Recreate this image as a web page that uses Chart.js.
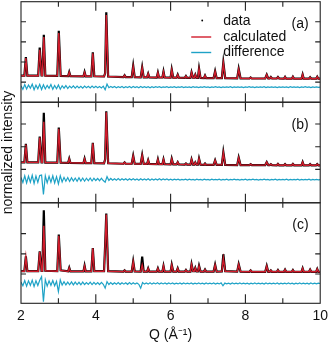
<!DOCTYPE html>
<html><head><meta charset="utf-8">
<script src="https://cdn.jsdelivr.net/npm/chart.js@4.4.1/dist/chart.umd.min.js"></script>
<style>html,body{margin:0;padding:0;background:#fff;}#wrap{width:332px;height:346px;}</style>
</head><body><div id="wrap"><canvas id="c" width="332" height="346"></canvas></div>
<script>
// ---- data ----
const seriesNames = ['data', 'calculated', 'difference'];
const panelLabels = ['(a)', '(b)', '(c)'];
const xTicks = [2, 4, 6, 8, 10];

// Q positions of the profile samples (feet and tops of the Bragg peaks)
const qCalc = [2.00,
 2.09,2.13,2.17, 2.46,2.50,2.55, 2.57,2.61,2.65, 2.97,3.01,3.06, 3.26,3.29,3.32,
 3.67,3.70,3.73, 3.88,3.92,3.96, 4.22,4.25,4.28,4.33, 4.74,4.77,4.80, 4.96,5.00,5.04,
 5.20,5.24,5.28, 5.37,5.40,5.43, 5.63,5.66,5.69, 5.78,5.81,5.84, 6.00,6.03,6.07,
 6.16,6.19,6.22, 6.38,6.41,6.44, 6.53,6.56,6.60, 6.63,6.66,6.69, 6.73,6.76,6.80,
 6.89,6.92,6.95, 7.15,7.19,7.23, 7.37,7.41,7.46, 7.78,7.82,7.87, 8.11,8.14,8.17,
 8.53,8.57,8.61, 8.65,8.68,8.71, 8.84,8.87,8.90, 9.03,9.06,9.09, 9.24,9.27,9.30,
 9.50,9.53,9.56, 9.70,9.73,9.76, 9.89,9.92,9.95, 10.00];

const calcA = [1.32,
 1.32,2.20,1.32, 1.32,2.61,1.33, 1.33,3.24,1.32, 1.31,3.44,1.31, 1.30,1.49,1.30,
 1.29,1.49,1.29, 1.29,2.44,1.29, 1.28,1.45,4.34,1.28, 1.25,1.34,1.25, 1.25,1.78,1.25,
 1.24,1.72,1.24, 1.24,1.42,1.24, 1.23,1.47,1.23, 1.23,1.52,1.23, 1.22,1.62,1.22,
 1.22,1.37,1.22, 1.21,1.30,1.21, 1.21,1.49,1.22, 1.22,1.37,1.21, 1.21,1.67,1.21,
 1.20,1.33,1.20, 1.20,1.53,1.20, 1.20,1.95,1.20, 1.19,1.65,1.19, 1.18,1.23,1.18,
 1.18,1.37,1.18, 1.18,1.25,1.18, 1.18,1.25,1.18, 1.17,1.26,1.17, 1.17,1.27,1.17,
 1.17,1.38,1.17, 1.17,1.24,1.17, 1.17,1.27,1.17, 1.17];
const obsA = [1.32,
 1.32,2.24,1.32, 1.32,2.72,1.33, 1.33,3.36,1.32, 1.31,3.55,1.31, 1.30,1.50,1.30,
 1.29,1.50,1.29, 1.29,2.48,1.29, 1.28,1.45,4.47,1.28, 1.25,1.34,1.25, 1.25,1.82,1.25,
 1.24,1.74,1.24, 1.24,1.42,1.24, 1.23,1.47,1.23, 1.23,1.53,1.23, 1.22,1.63,1.22,
 1.22,1.37,1.22, 1.21,1.30,1.21, 1.21,1.49,1.22, 1.22,1.37,1.21, 1.21,1.68,1.21,
 1.20,1.33,1.20, 1.20,1.54,1.20, 1.20,1.98,1.20, 1.19,1.66,1.19, 1.18,1.23,1.18,
 1.18,1.37,1.18, 1.18,1.25,1.18, 1.18,1.25,1.18, 1.17,1.26,1.17, 1.17,1.27,1.17,
 1.17,1.38,1.17, 1.17,1.24,1.17, 1.17,1.27,1.17, 1.17];

const calcB = [1.31,
 1.31,2.10,1.31, 1.31,2.40,1.31, 1.31,3.10,1.30, 1.30,2.79,1.30, 1.29,1.47,1.29,
 1.28,1.47,1.28, 1.28,2.15,1.28, 1.27,1.45,3.52,1.27, 1.25,1.31,1.25, 1.25,1.59,1.25,
 1.24,1.62,1.24, 1.24,1.41,1.24, 1.23,1.44,1.23, 1.23,1.44,1.23, 1.22,1.47,1.22,
 1.22,1.32,1.22, 1.21,1.26,1.21, 1.21,1.44,1.21, 1.21,1.31,1.21, 1.21,1.48,1.21,
 1.20,1.26,1.20, 1.20,1.40,1.20, 1.20,1.74,1.20, 1.19,1.52,1.19, 1.19,1.23,1.19,
 1.19,1.32,1.19, 1.19,1.23,1.19, 1.18,1.24,1.18, 1.18,1.23,1.18, 1.18,1.24,1.18,
 1.18,1.32,1.18, 1.18,1.23,1.18, 1.18,1.23,1.18, 1.18];
const obsB = [1.31,
 1.31,2.13,1.31, 1.31,2.45,1.31, 1.31,3.50,1.30, 1.30,2.84,1.30, 1.29,1.47,1.29,
 1.28,1.47,1.28, 1.28,2.17,1.28, 1.27,1.45,3.56,1.27, 1.25,1.31,1.25, 1.25,1.60,1.25,
 1.24,1.63,1.24, 1.24,1.41,1.24, 1.23,1.44,1.23, 1.23,1.44,1.23, 1.22,1.47,1.22,
 1.22,1.32,1.22, 1.21,1.26,1.21, 1.21,1.44,1.21, 1.21,1.31,1.21, 1.21,1.48,1.21,
 1.20,1.26,1.20, 1.20,1.40,1.20, 1.20,1.76,1.20, 1.19,1.52,1.19, 1.19,1.23,1.19,
 1.19,1.32,1.19, 1.19,1.23,1.19, 1.18,1.24,1.18, 1.18,1.23,1.18, 1.18,1.24,1.18,
 1.18,1.32,1.18, 1.18,1.23,1.18, 1.18,1.23,1.18, 1.18];

const calcC = [1.14,
 1.14,1.86,1.14, 1.14,2.10,1.15, 1.15,3.39,1.16, 1.14,2.89,1.18, 1.13,1.31,1.13,
 1.13,1.40,1.13, 1.13,2.27,1.14, 1.14,2.43,3.95,1.14, 1.12,1.18,1.12, 1.12,1.61,1.13,
 1.12,1.45,1.12, 1.12,1.28,1.12, 1.12,1.28,1.12, 1.12,1.40,1.12, 1.12,1.45,1.12,
 1.12,1.28,1.12, 1.12,1.20,1.12, 1.12,1.48,1.14, 1.14,1.30,1.13, 1.13,1.40,1.12,
 1.12,1.22,1.12, 1.12,1.45,1.12, 1.13,1.78,1.14, 1.12,1.48,1.12, 1.11,1.18,1.11,
 1.11,1.40,1.11, 1.11,1.18,1.11, 1.11,1.20,1.11, 1.11,1.22,1.11, 1.11,1.20,1.11,
 1.11,1.28,1.11, 1.11,1.22,1.11, 1.11,1.25,1.11, 1.11];
const obsC = [1.14,
 1.14,1.88,1.14, 1.14,2.12,1.15, 1.15,4.16,1.16, 1.14,2.95,1.18, 1.13,1.31,1.13,
 1.13,1.41,1.13, 1.13,2.29,1.14, 1.14,2.43,4.00,1.14, 1.12,1.18,1.12, 1.12,1.63,1.13,
 1.12,1.86,1.12, 1.12,1.28,1.12, 1.12,1.28,1.12, 1.12,1.40,1.12, 1.12,1.46,1.12,
 1.12,1.28,1.12, 1.12,1.20,1.12, 1.12,1.49,1.14, 1.14,1.30,1.13, 1.13,1.41,1.12,
 1.12,1.22,1.12, 1.12,1.46,1.12, 1.13,1.98,1.14, 1.12,1.49,1.12, 1.11,1.18,1.11,
 1.11,1.40,1.11, 1.11,1.18,1.11, 1.11,1.20,1.11, 1.11,1.22,1.11, 1.11,1.20,1.11,
 1.11,1.28,1.11, 1.11,1.22,1.11, 1.11,1.25,1.11, 1.11];

// difference curves, sampled every 0.05 from Q = 2.00 to 10.00
const diffStart = 2.0, diffStep = 0.05;
const diffA = [
 0.82,0.64,0.88,0.66,0.86,0.70,0.90,0.62,0.85,0.67,0.89,0.63,0.87,0.66,0.84,0.69,0.88,0.64,0.83,0.67,
 0.86,0.65,0.82,0.70,0.83,0.68,0.80,0.71,0.81,0.70,0.80,0.71,0.79,0.70,0.80,0.72,0.79,0.71,0.80,0.72,
 0.79,0.72,0.78,0.71,0.80,0.62,0.90,0.72,0.78,0.73,0.78,0.72,0.77,0.73,0.78,0.72,0.77,0.73,0.78,0.72,
 0.78,0.73,0.77,0.72,0.78,0.73,0.77,0.73,0.77,0.72,0.77,0.73,0.77,0.74,0.77,0.73,0.76,0.74,0.77,0.73,
 0.76,0.74,0.77,0.73,0.76,0.74,0.77,0.73,0.76,0.74,0.76,0.73,0.77,0.74,0.76,0.73,0.76,0.74,0.77,0.74,
 0.76,0.73,0.76,0.74,0.77,0.74,0.76,0.73,0.76,0.74,0.76,0.74,0.77,0.73,0.76,0.74,0.76,0.74,0.76,0.73,
 0.76,0.74,0.77,0.74,0.76,0.73,0.76,0.74,0.76,0.74,0.77,0.73,0.76,0.74,0.76,0.74,0.76,0.73,0.76,0.74,
 0.76,0.74,0.76,0.73,0.77,0.74,0.76,0.74,0.76,0.73,0.76,0.74,0.77,0.74,0.76,0.73,0.76,0.74,0.76,0.74,0.75];
const diffB = [
 0.64,0.42,0.72,0.40,0.70,0.44,0.74,0.38,0.71,0.43,0.73,0.75,-0.10,0.72,0.41,0.70,0.44,0.72,0.40,0.68,
 0.36,0.72,0.45,0.65,0.48,0.64,0.47,0.63,0.49,0.62,0.48,0.63,0.49,0.62,0.48,0.61,0.50,0.62,0.49,0.61,
 0.51,0.60,0.50,0.61,0.51,0.44,0.68,0.51,0.60,0.52,0.59,0.52,0.60,0.52,0.59,0.53,0.59,0.52,0.59,0.53,
 0.59,0.53,0.58,0.52,0.59,0.53,0.58,0.53,0.59,0.52,0.58,0.53,0.58,0.53,0.59,0.53,0.58,0.54,0.58,0.53,
 0.57,0.53,0.57,0.54,0.57,0.53,0.56,0.54,0.57,0.53,0.57,0.54,0.56,0.53,0.57,0.54,0.56,0.53,0.57,0.54,
 0.56,0.53,0.57,0.54,0.56,0.54,0.57,0.53,0.56,0.54,0.57,0.53,0.56,0.54,0.57,0.54,0.56,0.53,0.56,0.54,
 0.57,0.53,0.56,0.54,0.57,0.54,0.56,0.53,0.56,0.54,0.57,0.54,0.56,0.53,0.56,0.54,0.57,0.53,0.56,0.54,
 0.56,0.54,0.57,0.53,0.56,0.54,0.56,0.54,0.57,0.53,0.56,0.54,0.56,0.54,0.57,0.53,0.56,0.54,0.56,0.54,0.55];
const diffC = [
 0.60,0.42,0.68,0.40,0.66,0.44,0.70,0.38,0.67,0.43,0.69,0.87,-0.37,0.72,0.40,0.66,0.44,0.68,0.42,0.64,
 0.13,0.71,0.45,0.62,0.46,0.60,0.47,0.61,0.46,0.60,0.48,0.59,0.47,0.60,0.48,0.58,0.49,0.60,0.48,0.59,
 0.49,0.58,0.48,0.59,0.49,0.30,0.62,0.48,0.58,0.49,0.57,0.50,0.58,0.49,0.57,0.50,0.57,0.49,0.58,0.50,
 0.57,0.50,0.56,0.49,0.30,0.58,0.50,0.56,0.50,0.57,0.50,0.56,0.51,0.57,0.50,0.56,0.51,0.56,0.50,0.56,
 0.51,0.56,0.50,0.55,0.51,0.56,0.50,0.56,0.51,0.55,0.51,0.56,0.50,0.55,0.51,0.56,0.51,0.55,0.50,0.56,
 0.51,0.55,0.51,0.56,0.50,0.55,0.51,0.56,0.42,0.55,0.51,0.55,0.50,0.56,0.51,0.55,0.51,0.56,0.51,0.55,
 0.51,0.55,0.50,0.55,0.51,0.56,0.51,0.55,0.51,0.55,0.50,0.56,0.51,0.55,0.51,0.55,0.51,0.56,0.50,0.55,
 0.51,0.55,0.51,0.56,0.51,0.55,0.50,0.55,0.51,0.56,0.51,0.55,0.51,0.55,0.50,0.56,0.51,0.55,0.51,0.55,0.53];

// ---- style ----
const FONT = "'Liberation Sans', Arial, Helvetica, sans-serif";
const RED = '#d21c2c', CYAN = '#1ea2c6', INK = '#111';

const qDiff = diffA.map((_, i) => +(diffStart + i * diffStep).toFixed(2));
const pts = (q, v) => q.map((x, i) => ({x, y: v[i]}));

const panels = [
  {id: 'ya', label: panelLabels[0], obs: obsA, calc: calcA, diff: diffA, min: 0, max: 5},
  {id: 'yb', label: panelLabels[1], obs: obsB, calc: calcB, diff: diffB, min: -0.47, max: 3.96},
  {id: 'yc', label: panelLabels[2], obs: obsC, calc: calcC, diff: diffC, min: -0.45, max: 4.53}
];

const datasets = [];
panels.forEach(p => {
  datasets.push({label: seriesNames[0], data: pts(qCalc, p.obs), yAxisID: p.id, borderColor: '#000', borderWidth: 2.2, order: 3});
  datasets.push({label: seriesNames[1], data: pts(qCalc, p.calc), yAxisID: p.id, borderColor: RED, borderWidth: 1.4, order: 1});
  datasets.push({label: seriesNames[2], data: pts(qDiff, p.diff), yAxisID: p.id, borderColor: CYAN, borderWidth: 1.2, order: 2});
});

const scales = {
  x: {
    type: 'linear', position: 'bottom', min: 2, max: 10,
    grid: {display: false, drawTicks: false}, border: {display: false},
    ticks: {stepSize: 1, autoSkip: false, maxRotation: 0, padding: 4, color: INK,
            font: {family: FONT, size: 14},
            callback: v => (xTicks.includes(v) ? String(v) : '')},
    title: {display: true, text: 'Q (Å⁻¹)', color: INK, font: {family: FONT, size: 14}, padding: {top: 0, bottom: 2}},
    afterFit: s => { s.height = 42.7; }
  }
};
// left boxes in a stack are placed last-added first, so add the bottom panel first
panels.slice().reverse().forEach(p => {
  scales[p.id] = {
    type: 'linear', position: 'left', stack: 'panels', stackWeight: 1,
    min: p.min, max: p.max,
    grid: {display: false, drawTicks: false}, border: {display: false},
    ticks: {display: false, stepSize: 1},
    title: {display: p.id === 'yb', text: 'normalized intensity', color: INK, font: {family: FONT, size: 14}, padding: 0},
    afterFit: s => { s.width = 21; }
  };
});

const framePlugin = {
  id: 'frame',
  afterDatasetsDraw(chart) {
    const {ctx, chartArea: a} = chart;
    const x = chart.scales.x;
    ctx.save();
    panels.forEach(p => {
      const s = chart.scales[p.id];
      ctx.strokeStyle = '#222'; ctx.lineWidth = 1.1;
      ctx.strokeRect(a.left, s.top, a.right - a.left, s.bottom - s.top);
      ctx.beginPath();
      x.ticks.forEach(t => {
        if (t.value <= x.min || t.value >= x.max) return;
        const px = x.getPixelForValue(t.value);
        const len = t.label ? 9 : 5;
        ctx.moveTo(px, s.top); ctx.lineTo(px, s.top + len);
        ctx.moveTo(px, s.bottom); ctx.lineTo(px, s.bottom - len);
      });
      s.ticks.forEach(t => {
        if (t.value <= s.min || t.value >= s.max) return;
        const py = s.getPixelForValue(t.value);
        ctx.moveTo(a.left, py); ctx.lineTo(a.left + 5, py);
        ctx.moveTo(a.right, py); ctx.lineTo(a.right - 5, py);
      });
      ctx.stroke();
      ctx.fillStyle = INK;
      ctx.font = '14px ' + FONT;
      ctx.textAlign = 'right';
      ctx.textBaseline = 'middle';
      ctx.fillText(p.label, a.right - 11.6, s.top + 22.5);
    });
    // legend (top panel)
    const s = chart.scales.ya;
    const ds = chart.data.datasets;
    ctx.textAlign = 'left';
    for (let i = 0; i < 3; i++) {
      const y = s.top + 19.8 + i * 15.5;
      if (i === 0) {
        ctx.fillStyle = '#000';
        ctx.beginPath(); ctx.arc(a.right - 118, y - 1, 0.9, 0, Math.PI * 2); ctx.fill();
      } else {
        ctx.strokeStyle = ds[i].borderColor; ctx.lineWidth = 1.4;
        ctx.beginPath(); ctx.moveTo(a.right - 129, y); ctx.lineTo(a.right - 109, y); ctx.stroke();
      }
      ctx.fillStyle = INK;
      ctx.fillText(ds[i].label, a.right - 97, y);
    }
    ctx.restore();
  }
};

new Chart(document.getElementById('c'), {
  type: 'line',
  data: {datasets},
  options: {
    responsive: false, animation: false, devicePixelRatio: 1,
    layout: {padding: {top: 1.7, right: 9.7, bottom: 0, left: 0}},
    elements: {point: {radius: 0}, line: {tension: 0}},
    plugins: {legend: {display: false}, tooltip: {enabled: false}},
    scales
  },
  plugins: [framePlugin]
});
</script>
</body></html>
